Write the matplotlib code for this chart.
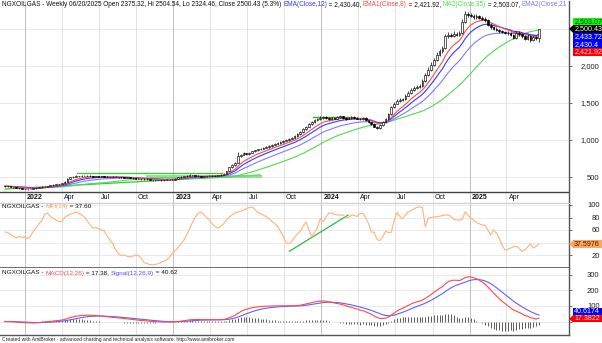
import numpy as np
import pandas as pd
import matplotlib
matplotlib.use("Agg")
import matplotlib.pyplot as plt
import matplotlib.dates as mdates
import matplotlib.transforms as mtransforms
from matplotlib.patches import Rectangle, Polygon

plt.rcParams['font.family'] = ['Liberation Sans', 'DejaVu Sans']

# weekly bars of the NGX Oil & Gas index, first bar on 2021-11-12
first_week = '2021-11-12'
opens = [378, 375, 372, 366, 360, 352, 346, 341, 338, 336, 340, 346, 352, 360, 370, 366, 378, 386, 395, 400,
         406, 414, 438, 478, 498, 505, 514, 508, 520, 515, 519, 514, 505, 510, 506, 511, 500, 504, 499, 505,
         500, 494, 499, 490, 494, 486, 480, 479, 474, 470, 477, 468, 460, 454, 461, 457, 455, 460, 466, 459,
         463, 478, 494, 505, 510, 520, 530, 525, 519, 514, 505, 510, 515, 516, 520, 517, 524, 530, 545, 580,
         632, 662, 690, 780, 800, 822, 810, 830, 846, 860, 872, 880, 895, 906, 921, 935, 950, 962, 976, 990,
         1002, 1020, 1032, 1050, 1082, 1110, 1150, 1180, 1212, 1240, 1266, 1285, 1300, 1310, 1294, 1280, 1301, 1290, 1309, 1320,
         1302, 1290, 1300, 1310, 1298, 1290, 1278, 1300, 1268, 1240, 1220, 1182, 1160, 1200, 1240, 1282, 1350, 1440, 1492, 1530,
         1542, 1550, 1600, 1640, 1682, 1700, 1722, 1730, 1800, 1880, 1950, 2020, 2080, 2150, 2200, 2240, 2400, 2420, 2410, 2430,
         2420, 2440, 2600, 2700, 2690, 2680, 2660, 2670, 2650, 2640, 2620, 2560, 2520, 2500, 2490, 2470, 2460, 2450, 2440, 2420,
         2380, 2450, 2430, 2400, 2370, 2410, 2350, 2390, 2375.32]
highs = [384, 379, 375, 369, 362, 355, 349, 344, 342, 344, 349, 356, 364, 375, 374, 382, 391, 399, 405, 411,
         420, 444, 486, 506, 514, 522, 520, 528, 525, 526, 523, 517, 515, 514, 516, 513, 509, 507, 510, 508,
         503, 504, 502, 498, 497, 489, 485, 482, 477, 481, 480, 471, 463, 465, 464, 460, 464, 470, 469, 467,
         482, 498, 510, 515, 525, 536, 534, 528, 522, 517, 514, 519, 521, 525, 524, 529, 536, 552, 588, 640,
         672, 702, 840, 815, 835, 830, 840, 856, 870, 882, 892, 905, 918, 932, 946, 961, 974, 988, 1002, 1015,
         1032, 1045, 1064, 1096, 1125, 1165, 1196, 1228, 1256, 1282, 1300, 1318, 1330, 1322, 1305, 1316, 1312, 1322, 1336, 1330,
         1312, 1314, 1326, 1320, 1308, 1298, 1314, 1306, 1275, 1248, 1226, 1190, 1212, 1254, 1296, 1366, 1458, 1512, 1552, 1566,
         1572, 1622, 1664, 1706, 1726, 1748, 1756, 1826, 1906, 1980, 2052, 2112, 2184, 2236, 2276, 2436, 2458, 2448, 2466, 2456,
         2476, 2640, 2740, 2730, 2720, 2702, 2700, 2690, 2676, 2660, 2636, 2580, 2538, 2520, 2506, 2488, 2478, 2470, 2458, 2436,
         2470, 2468, 2446, 2416, 2428, 2420, 2406, 2410, 2504.54]
lows = [370, 368, 362, 356, 348, 342, 337, 334, 331, 333, 337, 343, 349, 357, 362, 363, 375, 383, 392, 397,
        402, 410, 434, 472, 492, 500, 502, 504, 510, 510, 508, 500, 500, 501, 502, 495, 496, 494, 495, 495,
        489, 490, 486, 486, 481, 476, 474, 470, 465, 466, 464, 456, 450, 451, 453, 451, 452, 457, 455, 456,
        460, 475, 490, 501, 506, 516, 520, 515, 510, 500, 501, 506, 510, 512, 513, 514, 520, 527, 541, 576,
        626, 655, 684, 770, 792, 800, 803, 822, 838, 852, 864, 872, 886, 898, 912, 926, 940, 952, 966, 980,
        992, 1010, 1022, 1040, 1070, 1100, 1140, 1170, 1200, 1228, 1252, 1272, 1288, 1280, 1266, 1270, 1278, 1280, 1298, 1290,
        1276, 1278, 1290, 1286, 1278, 1266, 1268, 1256, 1228, 1206, 1170, 1146, 1150, 1192, 1232, 1274, 1340, 1430, 1480, 1516,
        1528, 1540, 1588, 1628, 1668, 1688, 1706, 1718, 1786, 1866, 1936, 2004, 2064, 2132, 2180, 2226, 2380, 2388, 2390, 2400,
        2400, 2428, 2586, 2668, 2660, 2640, 2640, 2630, 2620, 2600, 2540, 2500, 2482, 2472, 2452, 2440, 2432, 2420, 2400, 2360,
        2366, 2410, 2380, 2350, 2356, 2330, 2334, 2356, 2324.46]
closes = [375, 372, 366, 360, 352, 346, 341, 338, 336, 340, 346, 352, 360, 370, 366, 378, 386, 395, 400, 406,
          414, 438, 478, 498, 505, 514, 508, 520, 515, 519, 514, 505, 510, 506, 511, 500, 504, 499, 505, 500,
          494, 499, 490, 494, 486, 480, 479, 474, 470, 477, 468, 460, 454, 461, 457, 455, 460, 466, 459, 463,
          478, 494, 505, 510, 520, 530, 525, 519, 514, 505, 510, 515, 516, 520, 517, 524, 530, 545, 580, 632,
          662, 690, 780, 800, 822, 810, 830, 846, 860, 872, 880, 895, 906, 921, 935, 950, 962, 976, 990, 1002,
          1020, 1032, 1050, 1082, 1110, 1150, 1180, 1212, 1240, 1266, 1285, 1300, 1310, 1294, 1280, 1301, 1290, 1309, 1320, 1302,
          1290, 1300, 1310, 1298, 1290, 1278, 1300, 1268, 1240, 1220, 1182, 1160, 1200, 1240, 1282, 1350, 1440, 1492, 1530, 1542,
          1550, 1600, 1640, 1682, 1700, 1722, 1730, 1800, 1880, 1950, 2020, 2080, 2150, 2200, 2240, 2400, 2420, 2410, 2430, 2420,
          2440, 2600, 2700, 2690, 2680, 2660, 2670, 2650, 2640, 2620, 2560, 2520, 2500, 2490, 2470, 2460, 2450, 2440, 2420, 2380,
          2450, 2430, 2400, 2370, 2410, 2350, 2390, 2374.6, 2500.43]
mfi14 = [57, 56, 53, 50, 47, 50, 48, 49, 46, 50, 58, 64, 70, 75, 85, 87, 82, 79, 76, 73,
         74, 80, 83, 85, 87, 89, 86, 84, 81, 75, 68, 63, 64, 62, 60, 58, 50, 44, 38, 28,
         22, 19, 20, 18, 17, 18, 20, 19, 15, 8, 6, 5, 4, 5, 6, 8, 10, 12, 17, 23,
         27, 32, 38, 44, 52, 62, 72, 80, 87, 89, 85, 80, 76, 70, 65, 63, 66, 70, 76, 81,
         84, 87, 89, 90, 92, 94, 96, 97, 93, 88, 86, 84, 81, 78, 74, 70, 66, 58, 50, 40,
         38, 42, 48, 54, 58, 66, 73, 60, 49, 56, 63, 78, 73, 80, 87, 87, 85, 84, 84, 84,
         80, 80, 84, 83, 82, 86, 87, 80, 70, 57, 56, 45, 43, 49, 58, 56, 56, 75, 88, 82,
         78, 84, 89, 91, 94, 96, 97, 96, 65, 79, 80, 81, 81, 82, 83, 84, 84, 82, 77, 76,
         76, 77, 89, 84, 79, 76, 72, 70, 68, 68, 60, 52, 60, 55, 47, 36, 28, 29, 31, 33,
         34, 31, 26, 28, 33, 38, 31, 34, 37.6]

quarters = ['2022-01-01', '2022-04-01', '2022-07-01', '2022-10-01', '2023-01-01', '2023-04-01', '2023-07-01',
            '2023-10-01', '2024-01-01', '2024-04-01', '2024-07-01', '2024-10-01', '2025-01-01', '2025-04-01']
quarter_labels = ['2022', 'Apr', 'Jul', 'Oct', '2023', 'Apr', 'Jul', 'Oct', '2024', 'Apr', 'Jul', 'Oct', '2025', 'Apr']

# trendlines drawn on the chart: (start date, start value, end date, end value)
price_trendlines = [('2022-05-09', 558, '2023-05-01', 558), ('2021-11-13', 338, '2023-08-03', 527)]
price_band = ('2022-10-28', 510, '2023-08-03', 510)
box_line = ('2023-12-10', 1310, '2024-03-15', 1310)
mfi_trendlines = [('2023-10-14', 26, '2024-03-07', 84)]

# last values printed in the titles and axis tags
last_close = 2500.43
ema12_last, ema8_last, ma35_last, ema21_last = 2430.40, 2421.92, 2503.07, 2433.72
mfi_last = 37.5976
macd_last, signal_last = 17.3822, 40.6174

dates = pd.date_range(first_week, periods=len(closes), freq='7D')
x = mdates.date2num(dates)
close = pd.Series(closes, index=dates)
ema8 = close.ewm(span=8, adjust=False).mean()
ema12 = close.ewm(span=12, adjust=False).mean()
ema21 = close.ewm(span=21, adjust=False).mean()
ma35 = close.rolling(35, min_periods=1).mean()
macd = close.ewm(span=12, adjust=False).mean() - close.ewm(span=26, adjust=False).mean()
signal = macd.ewm(span=9, adjust=False).mean()
hist = macd - signal

RED, BLUE, BLUE2, GREEN = '#ff4a4a', '#3838ff', '#7c7cff', '#4fdc4f'
ORANGE = '#ffb27a'

W, H = 602, 343
AX_R = 569
fig = plt.figure(figsize=(W / 100, H / 100), dpi=100)


def add_panel(top, bottom):
    return fig.add_axes([0, 1 - bottom / H, AX_R / W, (bottom - top) / H])


ax_p = add_panel(1, 203)
ax_f = add_panel(203, 268)
ax_d = add_panel(268, 335)
panels = [ax_p, ax_f, ax_d]

ax_p.set_ylim(149, 2878)
ax_f.set_ylim(-0.8, 103.2)
ax_d.set_ylim(-87, 345)
yticks = {ax_p: [500, 1000, 1500, 2000, 2500], ax_f: [20, 40, 60, 80, 100], ax_d: [0, 100, 200, 300]}
# labels sitting under a value tag are left blank
ylabels = {ax_p: ['500', '1,000', '1,500', '2,000', ''], ax_f: ['20', '', '60', '80', '100'],
           ax_d: ['', '100', '200', '300']}

q_num = mdates.date2num(pd.to_datetime(quarters))
for ax in panels:
    ax.set_xlim(mdates.date2num(pd.Timestamp('2021-10-31')), mdates.date2num(pd.Timestamp('2025-09-02')))
    ax.set_xticks([])
    ax.yaxis.tick_right()
    ax.set_yticks(yticks[ax])
    ax.set_yticklabels(ylabels[ax])
    ax.tick_params(axis='y', direction='out', length=2.5, width=0.6, color='#555555',
                   labelsize=5.5, labelcolor='#222222', pad=19.5)
    for lbl in ax.get_yticklabels():
        lbl.set_horizontalalignment('right')
    for v in yticks[ax]:
        ax.axhline(v, color='#e6e6e6', lw=0.6, zorder=0)
    for q, name in zip(q_num, quarter_labels):
        ax.axvline(q, color='#b8b8b8' if name.isdigit() else '#dedede', lw=0.6, zorder=0)
    for side in ['left', 'top']:
        ax.spines[side].set_visible(False)
    ax.spines['right'].set_color('#555555')
    ax.spines['right'].set_linewidth(1.0)

ax_p.spines['bottom'].set_color('#b0b0b0')
ax_f.spines['top'].set_visible(True)
ax_f.spines['top'].set_color('#cfcfcf')
ax_f.spines['bottom'].set_color('#555555')
ax_f.spines['bottom'].set_linewidth(1.2)
ax_d.spines['bottom'].set_color('#555555')
ax_d.spines['bottom'].set_linewidth(1.0)

# date strip at the bottom of the price pane
strip = 11 / 202
ax_p.plot([0, 1], [strip, strip], transform=ax_p.transAxes, color='#444444', lw=1.0, zorder=4)
ax_p.fill_between([0, 1], 0, strip, transform=ax_p.transAxes, color='white', zorder=1)
date_tr = mtransforms.offset_copy(mtransforms.blended_transform_factory(ax_p.transData, ax_p.transAxes),
                                  fig=fig, x=2, y=0, units='dots')
for q, name in zip(q_num, quarter_labels):
    ax_p.axvline(q, ymax=strip, color='#b8b8b8' if name.isdigit() else '#dedede', lw=0.6, zorder=2)
    ax_p.text(q, 5.3 / 202, name, transform=date_tr, ha='left', va='center', fontsize=5.0,
              fontweight='bold' if name.isdigit() else 'normal', color='#111111', zorder=5)

# price pane: trendlines, averages, candles
for d0, v0, d1, v1 in price_trendlines:
    ax_p.plot(pd.to_datetime([d0, d1]), [v0, v1], color='#2fd12f', lw=0.9, zorder=2)
ax_p.plot(pd.to_datetime([price_band[0], price_band[2]]), [price_band[1], price_band[3]],
          color='#7fd67f', lw=2.2, alpha=0.8, zorder=2)
ax_p.plot(pd.to_datetime([box_line[0], box_line[2]]), [box_line[1], box_line[3]],
          color='#2fb02f', lw=1.0, zorder=2)

ax_p.plot(dates, ma35, color=GREEN, lw=0.8, zorder=3)
ax_p.plot(dates, ema21, color=BLUE2, lw=0.8, zorder=3)
ax_p.plot(dates, ema12, color=BLUE, lw=0.8, zorder=3)
ax_p.plot(dates, ema8, color=RED, lw=0.8, zorder=3)

o = np.array(opens)
c = np.array(closes)
up = c >= o
ax_p.vlines(x, lows, highs, color='black', lw=0.5, zorder=4)
ax_p.bar(x, np.abs(c - o), bottom=np.minimum(o, c), width=4.2,
         color=np.where(up, 'white', 'black'), edgecolor='black', linewidth=0.45, zorder=5)

# MFI pane
for d0, v0, d1, v1 in mfi_trendlines:
    ax_f.plot(pd.to_datetime([d0, d1]), [v0, v1], color='#2fb84f', lw=0.9, zorder=2)
ax_f.plot(dates, mfi14, color=ORANGE, lw=0.8, zorder=3)

# MACD pane
ax_d.vlines(x, 0, hist, color='#5a5a5a', lw=0.7, zorder=2)
ax_d.plot(dates, signal, color='#6060ff', lw=0.8, zorder=3)
ax_d.plot(dates, macd, color=RED, lw=0.8, zorder=3)


def headline(ax, y, pieces, size):
    # multi-coloured title, each piece placed right after the previous one
    t = ax.text(2 / AX_R, y, pieces[0][0], transform=ax.transAxes, color=pieces[0][1],
                fontsize=size, ha='left', va='center', zorder=6)
    parts = [t]
    for s, col in pieces[1:]:
        t = ax.annotate(s, xy=(1, 0), xycoords=t, va='bottom', ha='left', color=col, fontsize=size, zorder=6)
        parts.append(t)
    return parts


title_parts = headline(ax_p, 1 - 4 / 202, [
    ('NGXOILGAS - Weekly 06/20/2025 Open 2375.32, Hi 2504.54, Lo 2324.46, Close 2500.43 (5.3%) ', '#111111'),
    ('EMA(Close,12)', BLUE), (' = 2,430.40, ', '#111111'),
    ('EMA1(Close,8)', RED), (' = 2,421.92, ', '#111111'),
    ('MA2(Close,35)', '#55e055'), (' = 2,503.07, ', '#111111'),
    ('EMA2(Close,21)', BLUE2), (' = 2,433.72', '#111111')], 4.7)
headline(ax_f, 1 - 4 / 65, [('NGXOILGAS - ', '#111111'), ('MFI(14)', '#ffa055'), (' = 37.60', '#111111')], 4.6)
headline(ax_d, 1 - 5 / 67, [('NGXOILGAS - ', '#111111'), ('MACD(12,26)', RED), (' = 17.38, ', '#111111'),
                            ('Signal(12,26,9)', '#5050ff'), (' = 40.62', '#111111')], 4.6)

# the long title stops at the right scale
fig.canvas.draw()
renderer = fig.canvas.get_renderer()
edge = ax_p.bbox.x1 - 1
for t in title_parts:
    while t.get_text() and t.get_window_extent(renderer).x1 > edge:
        t.set_text(t.get_text()[:-1])


def tags(ax, items, anchor, step_px=7.6):
    # value boxes on the right scale, stacked so they do not overlap
    upp = (ax.get_ylim()[1] - ax.get_ylim()[0]) / ax.bbox.height
    h = step_px * upp
    tr = mtransforms.blended_transform_factory(ax.transAxes, ax.transData)
    left = 1 + 4 / AX_R
    base = items[anchor][0]
    for k, (val, text, face, ink, pointer) in enumerate(items):
        yc = base - (k - anchor) * h
        ax.add_patch(Rectangle((left, yc - h / 2), 40 / AX_R, h, transform=tr, facecolor=face,
                               edgecolor='none', clip_on=False, zorder=7))
        if pointer:
            ax.add_patch(Polygon([(1.0, yc), (left, yc + h / 2), (left, yc - h / 2)], closed=True,
                                 transform=tr, facecolor=face, edgecolor='none', clip_on=False, zorder=7))
        ax.text(left + 1.2 / AX_R, yc, text, transform=tr, ha='left', va='center', fontsize=5.1,
                color=ink, clip_on=False, zorder=8)


tags(ax_p, [(ma35_last, '2,503.07', '#00ff00', '#003300', False),
            (last_close, '2,500.43', '#000000', 'white', True),
            (ema21_last, '2,433.72', '#0000ff', 'white', False),
            (ema12_last, '2,430.4', '#0000ff', 'white', False),
            (ema8_last, '2,421.92', '#ff0000', '#ffdede', False)], anchor=1)
tags(ax_f, [(mfi_last, '37.5976', '#ffa65c', '#402000', True)], anchor=0)
tags(ax_d, [(signal_last, '40.6174', '#0000ff', 'white', False),
            (macd_last, '17.3822', '#ff0000', '#ffdede', True)], anchor=1, step_px=7.0)

fig.text(2 / W, 1 - 339 / H, 'Created with AmiBroker - advanced charting and technical analysis software. '
         'http://www.amibroker.com', fontsize=3.65, color='#222222', ha='left', va='center')

fig.savefig('out.png', dpi=100)
